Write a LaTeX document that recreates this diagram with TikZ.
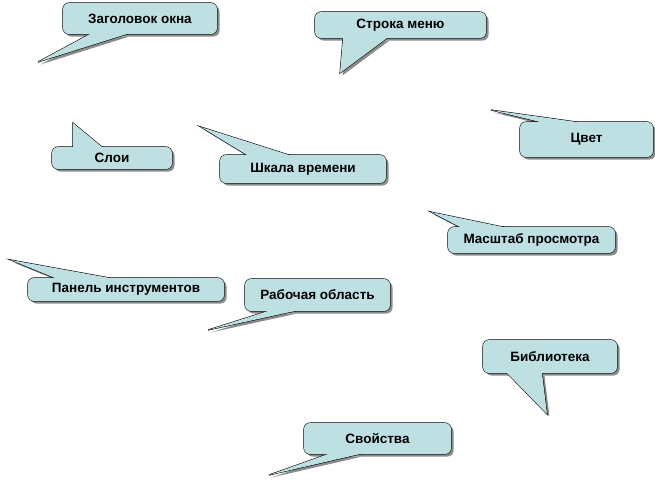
\documentclass[tikz,border=0pt]{standalone}
\usepackage{fontspec}
\setmainfont{Liberation Sans}
\usetikzlibrary{calc}

\definecolor{bubblefill}{RGB}{190,224,226}
\definecolor{bubbleshadow}{RGB}{140,140,140}

\tikzset{
  bubbletext/.style={font=\fontsize{13.5}{15}\selectfont\bfseries, inner sep=0pt},
  bubbleline/.style={line width=1.1pt, draw=black, line join=miter},
}

% #1 name, #2-#5 box corners, #6 #7 wedge base, #8 tip, #9 text
\newcommand{\bubble}[9]{%
  \fill[bubbleshadow, shift={(2.5,2.5)}, rounded corners=6pt] (#2,#3) rectangle (#4,#5);
  \fill[bubbleshadow, shift={(2.5,2.5)}] #6 -- #8 -- #7 -- cycle;
  \draw[bubbleline, rounded corners=6pt] (#2,#3) rectangle (#4,#5);
  \draw[bubbleline] #6 -- #8 -- #7 -- cycle;
  \fill[bubblefill, rounded corners=6pt] (#2,#3) rectangle (#4,#5);
  \fill[bubblefill] #6 -- #8 -- #7 -- cycle;
  \node[bubbletext] (#1) at ($(#2,#3)!0.5!(#4,#5)$) {#9};
}

\begin{document}
\begin{tikzpicture}[x=1pt, y=-1pt]
  \useasboundingbox (0,0) rectangle (655,480);

  % window title
  \bubble{title}{63}{3}{217}{34}{(90,34)}{(127,34)}{(38,62)}{Заголовок окна}

  % menu bar
  \bubble{menu}{315}{12}{486}{38}{(343,38)}{(387,38)}{(340,73)}{Строка меню}

  % layers
  \bubble{layers}{52}{147}{172}{169}{(73,147)}{(102,147)}{(73,123)}{Слои}

  % timeline
  \bubble{timeline}{220}{155}{386}{183}{(247,155)}{(289,155)}{(201,127)}{Шкала времени}

  % colour
  \bubble{colour}{520}{122}{653}{157}{(540,122)}{(577,122)}{(491,110)}{Цвет}

  % zoom
  \bubble{zoom}{448}{227}{615}{253}{(460,227)}{(503,227)}{(431,212)}{Масштаб просмотра}

  % tools panel
  \bubble{tools}{28}{278}{224}{301}{(55,278)}{(110,278)}{(11,260)}{Панель инструментов}

  % work area
  \bubble{stage}{245}{279}{390}{311}{(268,311)}{(295,311)}{(208,330)}{Рабочая область}

  % library
  \bubble{library}{483}{340}{617}{373}{(507,373)}{(542,373)}{(547,414)}{Библиотека}

  % properties
  \bubble{props}{304}{423}{451}{454}{(328,454)}{(360,454)}{(269,475)}{Свойства}
\end{tikzpicture}
\end{document}
